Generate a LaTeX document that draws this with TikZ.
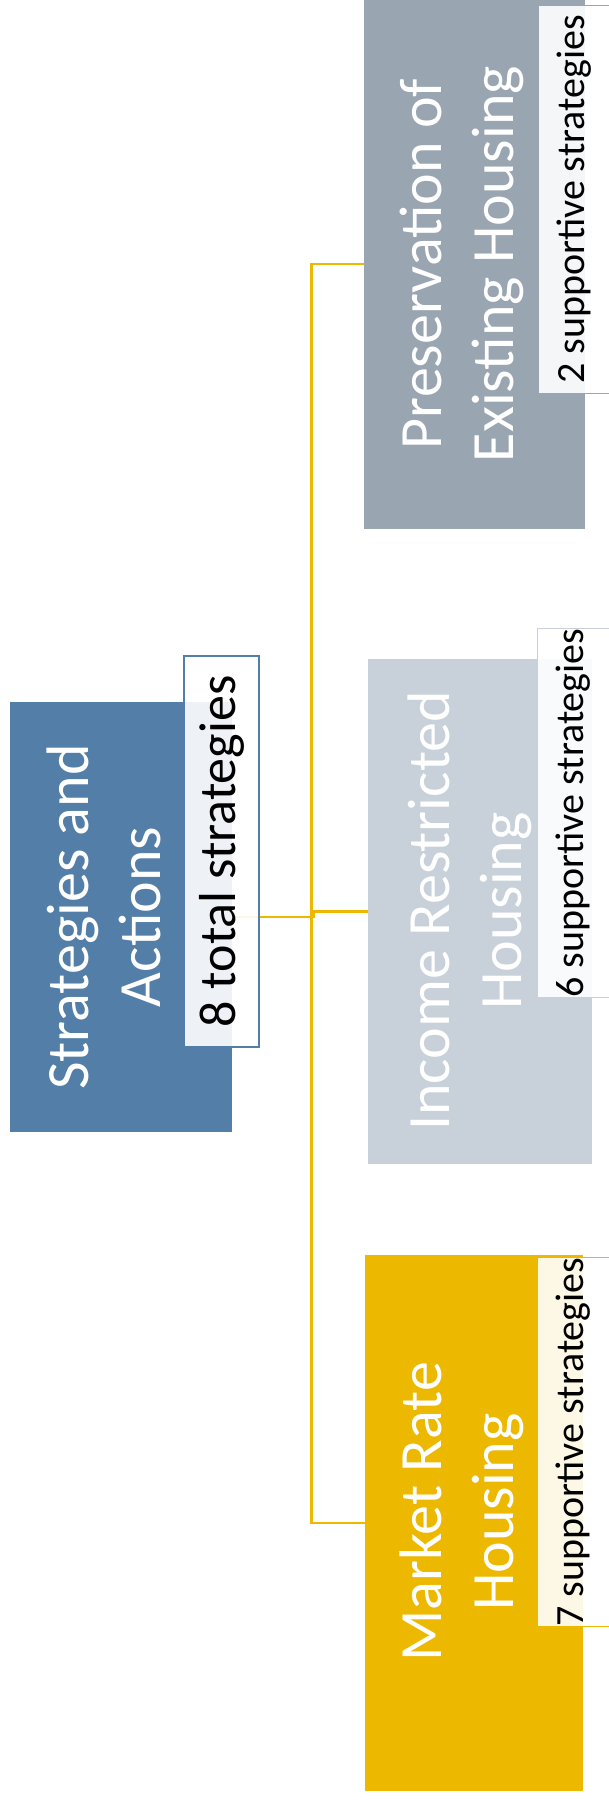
\documentclass[tikz,border=0pt]{standalone}
\usepackage{fontspec}
\setmainfont{Carlito}
\definecolor{rootblue}{RGB}{83,126,167}
\definecolor{presgray}{RGB}{153,165,177}
\definecolor{incgray}{RGB}{200,208,217}
\definecolor{mktgold}{RGB}{236,184,0}

\tikzset{every picture/.style={line width=0.75pt}}
\tikzset{
  tilebox/.style={rectangle, draw=none, inner sep=0pt},
  tiletext/.style={rotate=90, text=white, align=center, inner sep=0.75pt, font=\fontsize{45}{54}\selectfont},
  countbox/.style={rectangle, rotate=90, fill=white, fill opacity=0.9, text opacity=1, text=black, inner sep=0pt, align=center},
  branch/.style={draw=mktgold, line width=2pt}
}

\begin{document}
\begin{tikzpicture}[x=0.75pt,y=0.75pt,yscale=-1,xscale=1]
    \useasboundingbox (0,0) rectangle (608,1802);
    % Shape: Rectangle
    \node [tilebox, fill=rootblue, minimum width=166.5pt, minimum height=322.5pt] (root) at (121,917) {};
    % Shape: Rectangle
    \node [tilebox, fill=presgray, minimum width=165.75pt, minimum height=397.5pt] (pres) at (474.5,264) {};
    % Shape: Rectangle
    \node [tilebox, fill=incgray, minimum width=168pt, minimum height=378.75pt] (inc) at (480,911.5) {};
    % Shape: Rectangle
    \node [tilebox, fill=mktgold, minimum width=163.5pt, minimum height=402pt] (mkt) at (474,1523) {};
    % Text Node
    \node [tiletext] (roottxt) at (104,917) {Strategies and\\Actions};
    % Text Node
    \node [tiletext] (prestxt) at (462,264) {Preservation of\\Existing Housing};
    % Text Node
    \node [tiletext] (inctxt) at (470,911) {Income Restricted\\Housing};
    % Text Node
    \node [tiletext] (mkttxt) at (462,1512) {Market Rate\\Housing};
    % Connection
    \coordinate (hub) at (311.5,917);
    \draw [branch] (root.east) -- (hub) ;
    \draw [branch] (hub) |- (pres.west) ;
    \draw [branch] (hub) -- ++(2.5,0) |- (inc.west) ;
    \draw [branch] (hub) |- (mkt.west) ;
    % Text Node
    \node [countbox, draw=rootblue, line width=1.2pt, minimum width=293.25pt, minimum height=56.25pt, font=\fontsize{39}{46}\selectfont] (rootcount) at (221.5,851.5) {8 total strategies};
    % Text Node
    \node [countbox, draw=presgray, minimum width=290.25pt, minimum height=54pt, font=\fontsize{30}{36}\selectfont] (prescount) at (574,199.5) {2 supportive strategies};
    % Text Node
    \node [countbox, draw=incgray, minimum width=268.5pt, minimum height=54.75pt, font=\fontsize{30}{36}\selectfont] (inccount) at (573.5,813) {6 supportive strategies};
    % Text Node
    \node [countbox, draw=mktgold, minimum width=267pt, minimum height=54.75pt, font=\fontsize{30}{36}\selectfont] (mktcount) at (573.5,1442) {7 supportive strategies};

\end{tikzpicture}
\end{document}
